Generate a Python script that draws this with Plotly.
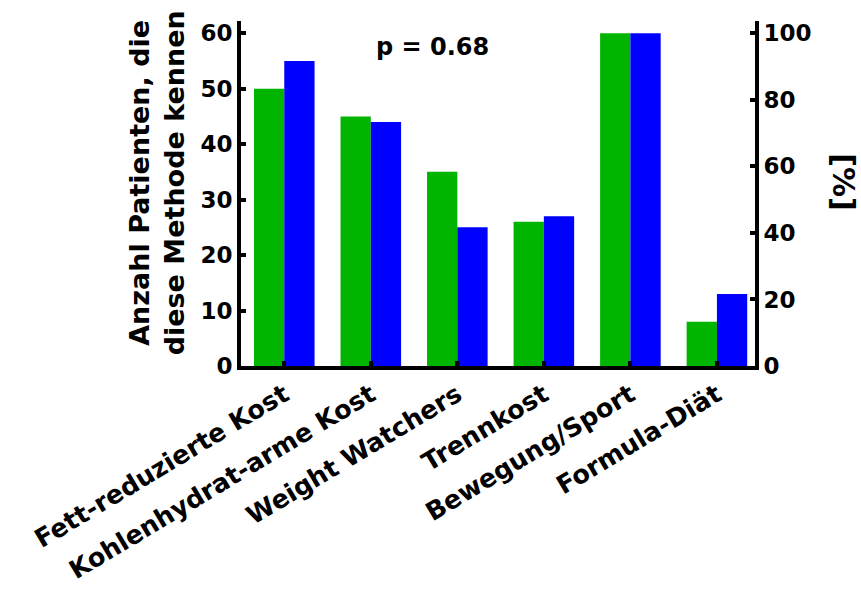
import plotly.graph_objects as go

# Diet methods known by patients, two groups
categories = ["Fett-reduzierte Kost", "Kohlenhydrat-arme Kost", "Weight Watchers",
              "Trennkost", "Bewegung/Sport", "Formula-Diät"]
group_green = [50, 45, 35, 26, 60, 8]
group_blue = [55, 44, 25, 27, 60, 13]
left_ticks = [0, 10, 20, 30, 40, 50, 60]
right_ticks = [0, 20, 40, 60, 80, 100]
p_label = "p = 0.68"

FONT = "DejaVu Sans, Verdana, sans-serif"
GREEN = "#00b400"
BLUE = "#0000ff"

W, H = 861, 590
L, R, T, B = 241, 106, 21, 224
y_max = 62.2

fig = go.Figure()
fig.add_trace(go.Bar(x=categories, y=group_green, marker=dict(color=GREEN, line=dict(width=0)),
                     showlegend=False))
fig.add_trace(go.Bar(x=categories, y=group_blue, marker=dict(color=BLUE, line=dict(width=0)),
                     showlegend=False))
# empty trace so the percent axis is rendered
fig.add_trace(go.Scatter(x=[], y=[], yaxis="y2", showlegend=False, hoverinfo="skip"))

tick_font = dict(family=FONT, size=23, color="black", weight="bold")

fig.update_layout(
    width=W, height=H,
    margin=dict(l=L, r=R, t=T, b=B, pad=0, autoexpand=False),
    paper_bgcolor="white", plot_bgcolor="white",
    barmode="group", bargap=0.3, bargroupgap=0,
    xaxis=dict(
        range=[-0.5, 5.44], showgrid=False, zeroline=False, automargin=False,
        showline=True, linecolor="black", linewidth=4,
        ticks="inside", ticklen=5, tickwidth=4, tickcolor="black",
        tickangle=-31, tickfont=dict(family=FONT, size=25.5, color="black", weight="bold"),
    ),
    yaxis=dict(
        range=[0, y_max], tickvals=left_ticks, showgrid=False, zeroline=False, automargin=False,
        showline=True, linecolor="black", linewidth=4,
        ticks="inside", ticklen=5, tickwidth=4, tickcolor="black",
        tickfont=tick_font,
    ),
    yaxis2=dict(
        overlaying="y", side="right", anchor="x", automargin=False,
        range=[0, y_max * 100 / 60], tickvals=right_ticks, showgrid=False, zeroline=False,
        showline=True, linecolor="black", linewidth=4,
        ticks="inside", ticklen=5, tickwidth=4, tickcolor="black",
        tickfont=tick_font,
    ),
)

fig.add_annotation(text="Anzahl Patienten, die<br>diese Methode kennen",
                   xref="paper", yref="paper", x=-0.163, y=0.53,
                   textangle=-90, showarrow=False,
                   font=dict(family=FONT, size=27, color="black", weight="bold"),
                   xanchor="center", yanchor="middle")
fig.add_annotation(text="[%]", xref="paper", yref="paper", x=1.173, y=0.533,
                   textangle=90, showarrow=False,
                   font=dict(family=FONT, size=30, color="black", weight="bold"),
                   xanchor="center", yanchor="middle")
fig.add_annotation(text=p_label, xref="paper", yref="paper", x=0.3735, y=0.925,
                   showarrow=False, font=dict(family=FONT, size=24, color="black", weight="bold"),
                   xanchor="center", yanchor="middle")

fig.write_html("out.html")
